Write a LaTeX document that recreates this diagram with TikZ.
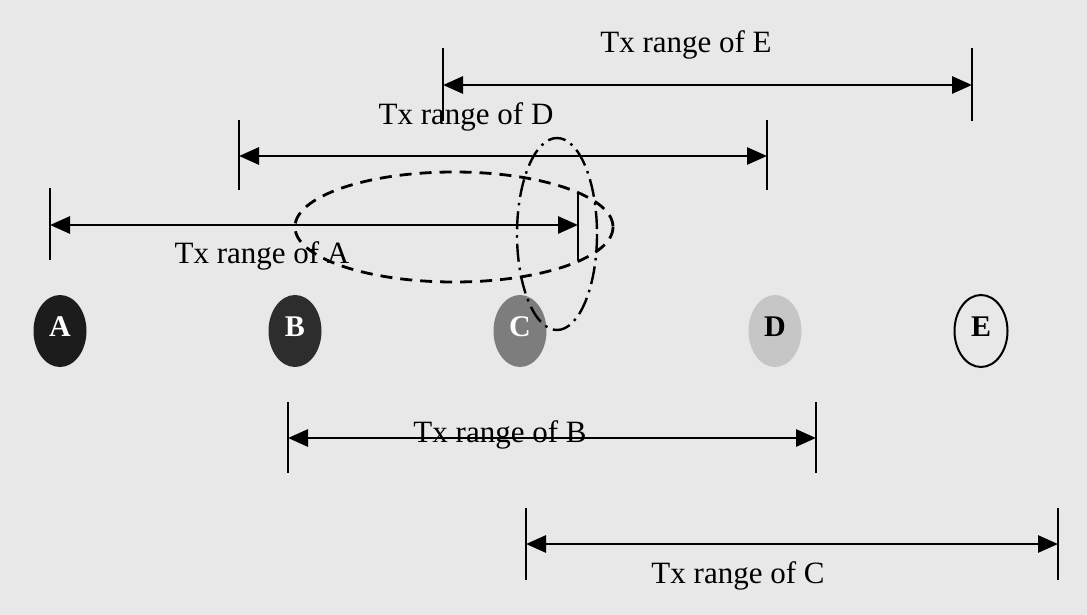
\documentclass[tikz,border=0pt]{standalone}
\usepackage{fontspec}
\setmainfont{Liberation Serif}
\usepackage{tikz}
\usetikzlibrary{shapes.geometric, arrows.meta}
\definecolor{scanbg}{RGB}{232, 232, 232}
\definecolor{stnA}{RGB}{28, 28, 28}
\definecolor{stnB}{RGB}{45, 45, 45}
\definecolor{stnC}{RGB}{125, 125, 125}
\definecolor{stnD}{RGB}{198, 198, 198}

\begin{document}
\begin{tikzpicture}[x=1pt, y=-1pt,
  txrange/.style={line width=2.8pt, {Triangle[length=20pt,width=17pt]}-{Triangle[length=20pt,width=17pt]}},
  rangetick/.style={line width=2pt},
  lbl/.style={font=\fontsize{31}{36}\selectfont, anchor=base, inner sep=0pt},
  station/.style={ellipse, minimum width=53pt, minimum height=72pt, inner sep=0pt,
    text depth=9pt, font=\fontsize{30}{32}\selectfont\bfseries}]
  \useasboundingbox (0,0) rectangle (1087,615);
  % background
  \fill[scanbg] (0,0) rectangle (1087,615);

  % stations
  \node[station, fill=stnA, text=white] (a) at (60,331) {A};
  \node[station, fill=stnB, text=white] (b) at (295,331) {B};
  \node[station, fill=stnC, text=white] (c) at (520,331) {C};
  \node[station, fill=stnD] (d) at (775,331) {D};
  \node[station, draw, line width=2pt] (e) at (981,331) {E};

  % Tx range of E
  \draw[rangetick] (443,48) -- (443,121);
  \draw[rangetick] (972,48) -- (972,121);
  \coordinate (eL) at (443,85);
  \coordinate (eR) at (972,85);
  \draw[txrange] (eL) -- (eR);
  \node[lbl] (labE) at (686,53) {Tx range of E};

  % Tx range of D
  \draw[rangetick] (239,120) -- (239,190);
  \draw[rangetick] (767,120) -- (767,190);
  \coordinate (dL) at (239,156);
  \coordinate (dR) at (767,156);
  \draw[txrange] (dL) -- (dR);
  \node[lbl] (labD) at (466,125) {Tx range of D};

  % Tx range of A
  \draw[rangetick] (50,188) -- (50,260);
  \draw[rangetick] (578,192) -- (578,260);
  \coordinate (aL) at (50,225);
  \coordinate (aR) at (578,225);
  \draw[txrange] (aL) -- (aR);
  \node[lbl] (labA) at (262,263) {Tx range of A};

  % Tx range of B
  \draw[rangetick] (288,402) -- (288,473);
  \draw[rangetick] (816,402) -- (816,473);
  \coordinate (bL) at (288,438);
  \coordinate (bR) at (816,438);
  \draw[txrange] (bL) -- (bR);
  \node[lbl] (labB) at (500,442) {Tx range of B};

  % Tx range of C
  \draw[rangetick] (526,508) -- (526,580);
  \draw[rangetick] (1058,508) -- (1058,580);
  \coordinate (cL) at (526,544);
  \coordinate (cR) at (1058,544);
  \draw[txrange] (cL) -- (cR);
  \node[lbl] (labC) at (738,583) {Tx range of C};

  % zones round A's end and round C
  \draw[line width=2.8pt, dash pattern=on 12pt off 8pt] (454,227) ellipse [x radius=159, y radius=55];
  \draw[line width=2.4pt, dash pattern=on 18pt off 6pt on 2.5pt off 6pt] (557,234) ellipse [x radius=40, y radius=96];
\end{tikzpicture}
\end{document}
